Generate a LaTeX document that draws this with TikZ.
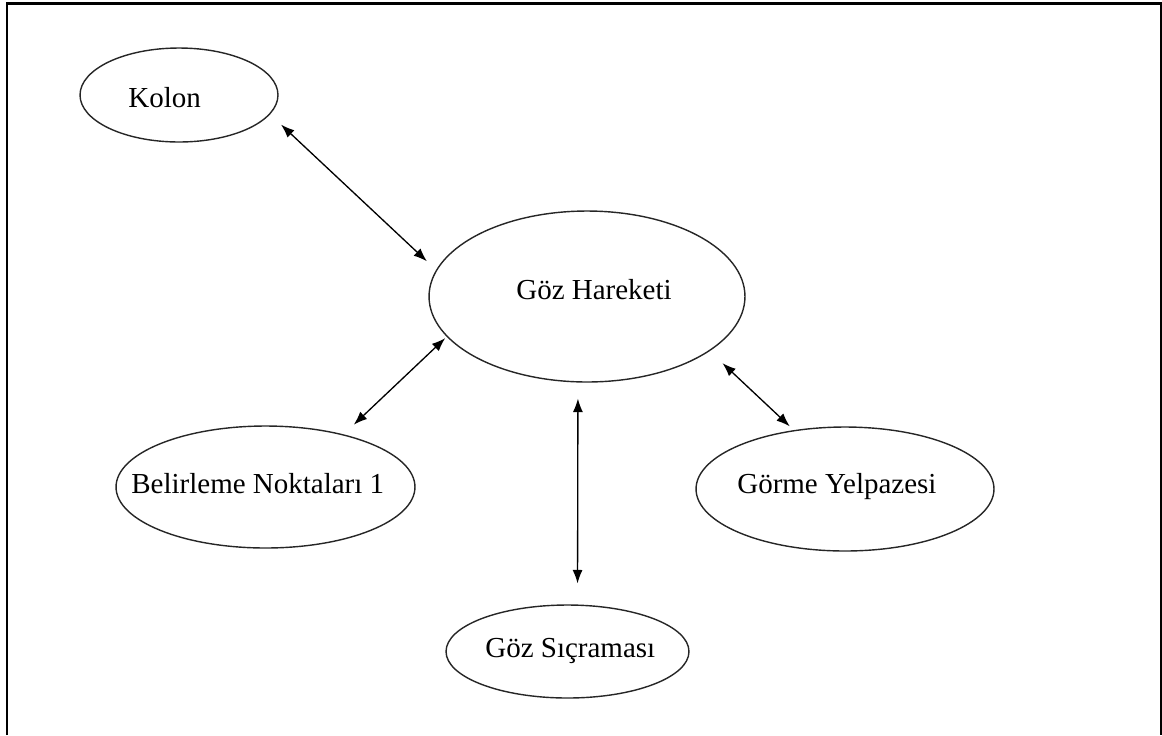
\documentclass[tikz,border=0pt]{standalone}
\usepackage{fontspec}
\setmainfont{Liberation Serif}
\usetikzlibrary{shapes.geometric}
\usetikzlibrary{arrows.meta}

\begin{document}
\begin{tikzpicture}[x=0.02cm,y=-0.02cm,line cap=round]
	\tikzstyle{balon}=[ellipse,draw=black!85,line width=0.8pt,inner sep=0pt];
	\tikzstyle{yazi}=[anchor=base west,inner sep=0pt,font=\fontsize{16.5}{20}\selectfont];
	\tikzstyle{ok}=[{Latex[length=0.27cm,width=0.2cm]}-{Latex[length=0.27cm,width=0.2cm]},line width=0.75pt];
	\useasboundingbox (0,0) rectangle (1162,735);
	%% Frame
	\draw[line width=1.3pt,line cap=butt] (7,735) -- (7,3.5) -- (1161,3.5) -- (1161,735);
	%% Ellipses
	\node[balon,minimum width=3.96cm,minimum height=1.88cm] (kolon)   at (179,95)    {};
	\node[balon,minimum width=6.32cm,minimum height=3.42cm] (hareket) at (587,296.5) {};
	\node[balon,minimum width=5.98cm,minimum height=2.44cm] (belirle) at (265.5,487) {};
	\node[balon,minimum width=5.96cm,minimum height=2.48cm] (gorme)   at (845,489)   {};
	\node[balon,minimum width=4.86cm,minimum height=1.86cm] (sicrama) at (567.5,651.5) {};
	%% Texts
	\node[yazi] (kolon-t)   at (128,107) {Kolon};
	\node[yazi] (hareket-t) at (516,299) {Göz Hareketi};
	\node[yazi] (belirle-t) at (131,493) {Belirleme Noktaları 1};
	\node[yazi] (gorme-t)   at (737,493) {Görme Yelpazesi};
	\node[yazi] (sicrama-t) at (485,657) {Göz Sıçraması};
	%% Arrows
	\draw[ok,shorten <=0.30cm,shorten >=0.25cm] (kolon.-12) -- (hareket.170.5);
	\draw[ok,shorten <=0.28cm,shorten >=0.04cm] (belirle.34) -- (hareket.-164);
	\draw[ok,shorten <=0.32cm,shorten >=0.42cm] (hareket.-96) -- (sicrama.78);
	\draw[ok,shorten <=0.35cm,shorten >=0.11cm] (hareket.-24) -- (gorme.131);
\end{tikzpicture}
\end{document}
